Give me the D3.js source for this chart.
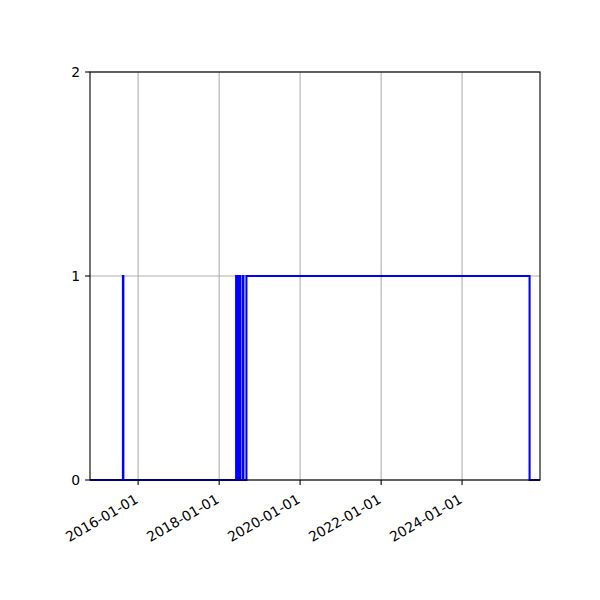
<!DOCTYPE html>
<html>
<head>
<meta charset="utf-8">
<script src="https://cdn.jsdelivr.net/npm/d3@7"></script>
<style>
  body { margin: 0; background: #fff; }
  text { font-family: "DejaVu Sans", sans-serif; font-size: 13.9px; fill: #000; }
</style>
</head>
<body>
<div id="chart"></div>
<script>
// step series: value holds from each date until the next one
var changeDates = ["2014-10-24", "2015-08-17", "2015-08-21", "2018-06-03", "2018-06-11",
                   "2018-06-15", "2018-06-23", "2018-06-27", "2018-07-09", "2018-08-01",
                   "2018-08-08", "2018-09-04", "2025-09-01", "2025-12-04"];
var values = [0, 1, 0, 1, 0, 1, 0, 1, 0, 1, 0, 1, 0, 0];
var xTickLabels = ["2016-01-01", "2018-01-01", "2020-01-01", "2022-01-01", "2024-01-01"];
var yTicks = [0, 1, 2];

var parse = d3.timeParse("%Y-%m-%d");
var data = changeDates.map((d, i) => ({date: parse(d), value: values[i]}));

var margin = {top: 72, right: 60, bottom: 120, left: 90},
    width = 600 - margin.left - margin.right,
    height = 600 - margin.top - margin.bottom;

var svg = d3.select("#chart")
            .append("svg")
            .attr("width", 600)
            .attr("height", 600)
        .append("g")
            .attr("transform", "translate(" + margin.left + "," + margin.top + ")");

var x = d3.scaleTime()
        .domain(d3.extent(data, d => d.date))
        .range([0, width]);
var y = d3.scaleLinear()
        .domain([0, 2])
        .range([height, 0]);

// grid
svg.append("g")
    .selectAll("line.vgrid")
    .data(xTickLabels)
    .enter()
    .append("line")
    .attr("x1", d => x(parse(d))).attr("x2", d => x(parse(d)))
    .attr("y1", 0).attr("y2", height)
    .style("stroke", "#b0b0b0").style("stroke-width", 1.1);
svg.append("g")
    .selectAll("line.hgrid")
    .data(yTicks)
    .enter()
    .append("line")
    .attr("x1", 0).attr("x2", width)
    .attr("y1", d => y(d)).attr("y2", d => y(d))
    .style("stroke", "#b0b0b0").style("stroke-width", 1.1);

// series
var line = d3.line()
        .x(d => x(d.date))
        .y(d => y(d.value))
        .curve(d3.curveStepAfter);
svg.append("path")
    .datum(data)
    .attr("d", line)
    .style("fill", "none")
    .style("stroke", "#0000ff")
    .style("stroke-width", 2.08);

// frame
svg.append("rect")
    .attr("width", width).attr("height", height)
    .style("fill", "none").style("stroke", "#000").style("stroke-width", 1.1);

// x axis
var xAxis = svg.append("g").attr("transform", "translate(0," + height + ")");
var xt = xAxis.selectAll("g.tick")
    .data(xTickLabels)
    .enter()
    .append("g")
    .attr("transform", d => "translate(" + x(parse(d)) + ",0)");
xt.append("line").attr("y2", 4.9).style("stroke", "#000").style("stroke-width", 1.1);
xt.append("text")
    .attr("transform", "translate(1,22) rotate(-30)")
    .attr("text-anchor", "end")
    .text(d => d);

// y axis
var yt = svg.append("g")
    .selectAll("g.tick")
    .data(yTicks)
    .enter()
    .append("g")
    .attr("transform", d => "translate(0," + y(d) + ")");
yt.append("line").attr("x2", -4.9).style("stroke", "#000").style("stroke-width", 1.1);
yt.append("text")
    .attr("x", -9.8)
    .attr("dy", "0.35em")
    .attr("text-anchor", "end")
    .text(d => d);
</script>
</body>
</html>
